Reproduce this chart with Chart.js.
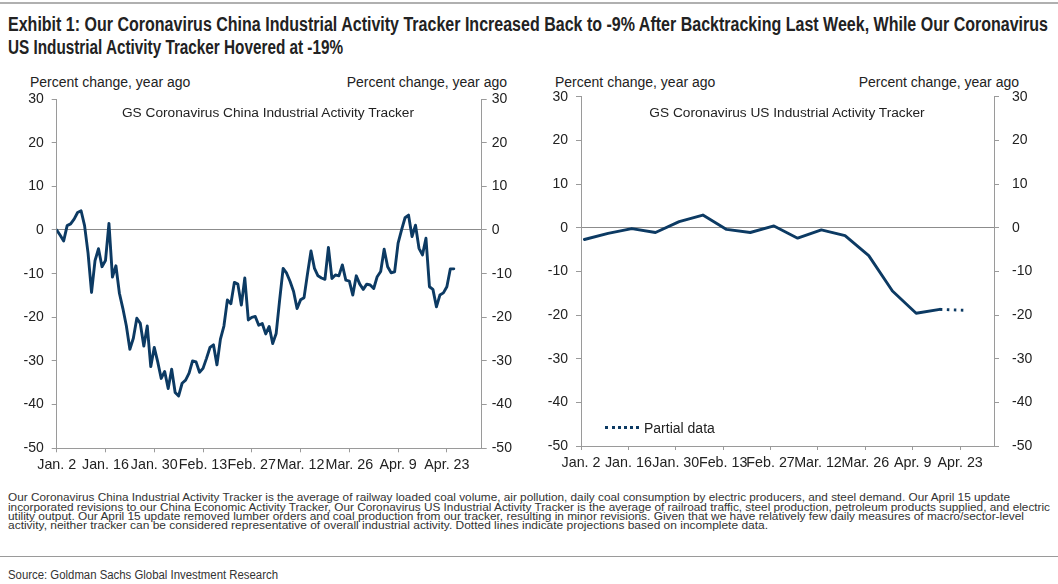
<!DOCTYPE html>
<html><head><meta charset="utf-8">
<script src="https://cdn.jsdelivr.net/npm/chart.js@4.4.1/dist/chart.umd.min.js"></script>
<style>
html,body{margin:0;padding:0;background:#fff;width:1058px;height:584px;overflow:hidden;}
body{position:relative;font-family:"Liberation Sans",Arial,sans-serif;color:#1e1e1e;}
.abs{position:absolute;white-space:nowrap;transform-origin:0 50%;}
.narrow{font-family:"Liberation Sans Narrow","Arial Narrow","Liberation Sans",sans-serif;}
.rule{position:absolute;left:0;width:1058px;height:1px;background:#9a9a9a;}
canvas{position:absolute;}
.ttl{font-weight:bold;font-size:19.5px;line-height:24px;color:#222;}
.foot{font-size:11.3px;line-height:10px;color:#333;}
.ax{font-size:14px;line-height:16px;color:#222;}
.inner{font-size:13.7px;line-height:16px;color:#222;transform-origin:50% 50%;}
</style>
</head>
<body>
<div class="rule" style="top:2px;height:2px;background:#b0b0b0"></div>
<div class="abs narrow ttl fit" data-w="1040" style="left:8px;top:11.5px">Exhibit 1: Our Coronavirus China Industrial Activity Tracker Increased Back to -9% After Backtracking Last Week, While Our Coronavirus</div>
<div class="abs narrow ttl fit" data-w="335" style="left:8px;top:34.5px">US Industrial Activity Tracker Hovered at -19%</div>

<div class="abs ax" style="left:30px;top:74px">Percent change, year ago</div>
<div class="abs ax" id="r1" style="left:345px;top:74px">Percent change, year ago</div>
<div class="abs ax" style="left:555px;top:74px">Percent change, year ago</div>
<div class="abs ax" id="r2" style="left:872px;top:74px">Percent change, year ago</div>

<canvas id="c1" width="530" height="392" style="left:0;top:90px;width:530px;height:392px"></canvas>
<canvas id="c2" width="530" height="392" style="left:528px;top:90px;width:530px;height:392px"></canvas>

<div class="abs inner" id="t1" style="left:118px;top:105px">GS Coronavirus China Industrial Activity Tracker</div>
<div class="abs inner" id="t2" style="left:655px;top:105px">GS Coronavirus US Industrial Activity Tracker</div>

<div class="abs" style="left:605px;top:426px;width:34px;height:0;border-top:3px dotted #0c3a63"></div>
<div class="abs ax" style="left:644px;top:420px">Partial data</div>

<div class="abs narrow foot fit" data-w="1002" style="left:8px;top:492px">Our Coronavirus China Industrial Activity Tracker is the average of railway loaded coal volume, air pollution, daily coal consumption by electric producers, and steel demand. Our April 15 update</div>
<div class="abs narrow foot fit" data-w="1042" style="left:8px;top:501.5px">incorporated revisions to our China Economic Activity Tracker, Our Coronavirus US Industrial Activity Tracker is the average of railroad traffic, steel production, petroleum products supplied, and electric</div>
<div class="abs narrow foot fit" data-w="1016" style="left:8px;top:511px">utility output. Our April 15 update removed lumber orders and coal production from our tracker, resulting in minor revisions. Given that we have relatively few daily measures of macro/sector-level</div>
<div class="abs narrow foot fit" data-w="760" style="left:8px;top:520px">activity, neither tracker can be considered representative of overall industrial activity. Dotted lines indicate projections based on incomplete data.</div>
<div class="rule" style="top:556px"></div>
<div class="abs narrow foot fit" data-w="270" style="left:8px;top:569px;font-size:12px;line-height:12px">Source: Goldman Sachs Global Investment Research</div>

<script>
// ---------- DATA ----------
const axisStart = '2020-01-02';
const tickLabels = ['Jan. 2','Jan. 16','Jan. 30','Feb. 13','Feb. 27','Mar. 12','Mar. 26','Apr. 9','Apr. 23'];
const tickDates  = ['2020-01-02','2020-01-16','2020-01-30','2020-02-13','2020-02-27','2020-03-12','2020-03-26','2020-04-09','2020-04-23'];
const axisEnd = '2020-05-04';
const yTicks = [30,20,10,0,-10,-20,-30,-40,-50];

// China tracker, daily from Jan. 2
const chinaStart = '2020-01-02';
const chinaValues = [
 0,-1.2,-2.5,1,1.4,2.5,4,4.4,1,-5.3,
 -14.3,-7,-4.3,-8.4,-7,1.5,-10.8,-8.2,-14.5,-18,
 -22,-27.3,-24.8,-20.2,-21.4,-26.6,-22,-31.3,-26.9,-30.2,
 -34,-32.4,-36.3,-31.9,-37.2,-38,-35.1,-34.4,-32.8,-30,
 -30.2,-32.6,-31.7,-29.4,-26.9,-26.3,-30.9,-25,-22,-16,
 -16.9,-12,-12.4,-17.2,-11,-20.6,-20,-19.8,-21.8,-21.4,
 -23.8,-22.1,-26,-23.7,-16,-8.8,-9.9,-11.8,-14.1,-18,
 -16,-15.5,-10,-4.8,-8.8,-10.5,-11,-11.3,-4,-11.1,
 -10.3,-10.5,-8,-11.5,-11.7,-14.9,-10.5,-12.4,-13.6,-12.4,
 -12.6,-13.4,-10.7,-9.5,-4.4,-8.4,-9.8,-9.6,-3,0,
 2.8,3.4,-1.5,1.1,-4.2,-5.7,-1.9,-13,-13.6,-17.6,
 -14.9,-14.4,-13,-8.9,-8.9
];

// US tracker, weekly
const usDates = ['2020-01-03','2020-01-10','2020-01-17','2020-01-24','2020-01-31','2020-02-07','2020-02-14','2020-02-21','2020-02-28','2020-03-06','2020-03-13','2020-03-20','2020-03-27','2020-04-03','2020-04-10','2020-04-17'];
const usValues = [-2.7,-1.3,-0.2,-1.1,1.4,2.9,-0.4,-1.1,0.4,-2.4,-0.5,-1.8,-6.4,-14.5,-19.6,-18.7];
const usPartialDates = ['2020-04-17','2020-04-24'];
const usPartialValues = [-18.7,-18.9];

// ---------- helpers ----------
const DAY = 86400000;
const dayOf = s => Math.round((Date.parse(s) - Date.parse(axisStart)) / DAY);
const chinaPts = chinaValues.map((v,i) => ({x: dayOf(chinaStart) + i, y: v}));
const usPts = usValues.map((v,i) => ({x: dayOf(usDates[i]), y: v}));
const usPartPts = usPartialValues.map((v,i) => ({x: dayOf(usPartialDates[i]), y: v}));
const tickDays = tickDates.map(dayOf);

const LINE = '#0c3a63';
const GREY = '#9a9a9a';
const FONT = {family: '"Liberation Sans", Arial, sans-serif', size: 14};

function makeOptions(cfg){
  const fixY = w => s => { s.width = w; s.paddingTop = 0; s.paddingBottom = 0; };
  return {
    responsive:false, animation:false, devicePixelRatio:1,
    layout:{padding:{top:cfg.top,left:0,right:0,bottom:0}},
    plugins:{legend:{display:false}, tooltip:{enabled:false}},
    scales:{
      x:{type:'linear', min:0, max:dayOf(axisEnd)-1,
        afterBuildTicks: s => { s.ticks = tickDays.map(d => ({value:d})); },
        afterFit: s => { s.height = cfg.xh; s.paddingLeft = 0; s.paddingRight = 0; },
        ticks:{autoSkip:false, maxRotation:0, padding:4, color:'#222', font:{...FONT,size:14.3},
          callback:(v) => { const i = tickDays.indexOf(v); return i>=0 ? tickLabels[i] : ''; }},
        grid:{drawOnChartArea:false, tickLength:4, tickColor:GREY, color:GREY},
        border:{display:true, color:GREY, width:1}
      },
      y:{position:'left', min:-50, max:30,
        afterBuildTicks: s => { s.ticks = yTicks.map(v => ({value:v})); },
        afterFit: fixY(cfg.lw),
        ticks:{padding:cfg.lp, color:'#222', font:FONT},
        grid:{drawOnChartArea:true, tickLength:5, tickColor:GREY, lineWidth:1,
          color: c => (c.tick && c.tick.value === 0) ? '#8c8c8c' : 'rgba(0,0,0,0)'},
        border:{display:true, color:GREY, width:1}
      },
      y1:{position:'right', min:-50, max:30,
        afterBuildTicks: s => { s.ticks = yTicks.map(v => ({value:v})); },
        afterFit: fixY(cfg.rw),
        ticks:{padding:cfg.rp, color:'#222', font:FONT},
        grid:{drawOnChartArea:false, tickLength:5, tickColor:GREY, color:GREY},
        border:{display:true, color:GREY, width:1}
      }
    }
  };
}

const lineStyle = {borderColor:LINE, borderWidth:2.9, pointRadius:0, tension:0,
  borderJoinStyle:'round', borderCapStyle:'round', fill:false, yAxisID:'y'};

new Chart(document.getElementById('c1'), {
  type:'line',
  data:{datasets:[{label:'GS Coronavirus China Industrial Activity Tracker', data:chinaPts, ...lineStyle}]},
  options: makeOptions({top:9, xh:33.7, lw:56.7, rw:48.3, lp:8, rp:5})
});

new Chart(document.getElementById('c2'), {
  type:'line',
  data:{datasets:[
    {label:'GS Coronavirus US Industrial Activity Tracker', data:usPts, ...lineStyle},
    {label:'Partial data', data:usPartPts, ...lineStyle, borderDash:[2.5,4.5], borderCapStyle:'butt'}
  ]},
  options: makeOptions({top:6.7, xh:36, lw:53, rw:64, lp:8, rp:13})
});

// fit text widths
function fitAll(){
  document.querySelectorAll('.fit').forEach(el => {
    el.style.transform = 'none';
    const w = el.getBoundingClientRect().width;
    const t = +el.dataset.w;
    if (w > 0) el.style.transform = 'scaleX(' + (t / w) + ')';
  });
  const ra = (id, right) => { const el = document.getElementById(id); el.style.left = (right - el.getBoundingClientRect().width) + 'px'; };
  ra('r1', 507); ra('r2', 1019);
  const ce = (id, cx) => { const el = document.getElementById(id); el.style.left = (cx - el.getBoundingClientRect().width/2) + 'px'; };
  ce('t1', 268); ce('t2', 787);
}
fitAll();
if (document.fonts && document.fonts.ready) document.fonts.ready.then(fitAll);
</script>
</body></html>
